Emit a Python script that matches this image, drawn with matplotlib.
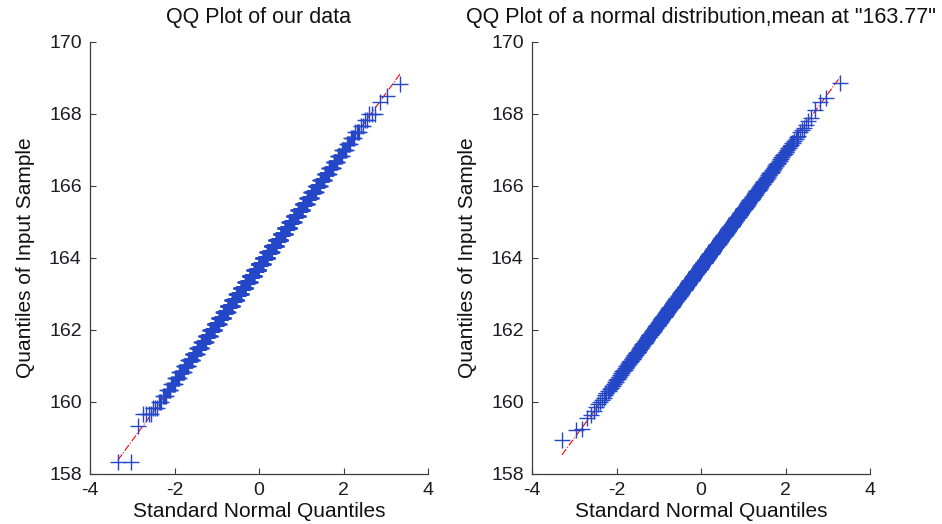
from statistics import NormalDist

import matplotlib

matplotlib.use("Agg")

import matplotlib.pyplot as plt
import numpy as np

# Left panel: our data, recorded in steps of 1/6 -> counts per recorded value
left_low_tail = [158.333, 158.333, 159.333, 159.667, 159.667, 159.667, 159.667]
left_start = 159 + 5 / 6
left_step = 1 / 6
left_counts = [
    3, 3, 4, 5, 6, 7, 10, 11, 13, 16, 18, 21, 24,
    27, 30, 34, 36, 39, 42, 45, 46, 48, 49, 50, 50, 49,
    48, 47, 45, 43, 40, 37, 34, 31, 28, 24, 22, 19, 16,
    14, 12, 9, 8, 7, 5, 4, 4, 2, 2,
]
left_high_tail = [168.0, 168.0, 168.0, 168.333, 168.5, 168.833]

# Right panel: normal sample, counted in 0.05 bins (tails read point by point)
right_low_tail = [158.94, 159.22, 159.26, 159.55, 159.64]
right_start = 159.70
right_step = 0.05
right_counts = [
    0, 1, 0, 1, 0, 1, 1, 1, 1, 0, 1, 1, 2, 1,
    1, 2, 1, 2, 1, 2, 2, 2, 2, 2, 3, 2, 3, 3,
    3, 3, 4, 3, 4, 4, 4, 4, 5, 4, 5, 5, 6, 5,
    6, 6, 6, 7, 7, 7, 7, 7, 8, 8, 8, 9, 8, 9,
    9, 10, 9, 10, 10, 10, 11, 11, 10, 11, 12, 11, 12, 11,
    12, 12, 12, 12, 13, 12, 12, 13, 12, 13, 13, 12, 13, 12,
    13, 13, 12, 13, 12, 12, 12, 12, 12, 12, 12, 11, 12, 11,
    11, 11, 10, 11, 10, 10, 10, 9, 9, 10, 8, 9, 8, 9,
    7, 8, 8, 7, 7, 6, 7, 6, 6, 6, 5, 6, 5, 5,
    4, 5, 4, 4, 4, 3, 3, 4, 3, 3, 2, 3, 3, 2,
    2, 2, 2, 2, 2, 2, 1, 2, 1, 1, 2, 1, 1, 1,
    1, 0, 1, 1, 1, 0, 1, 0, 1, 0, 1, 0, 0,
]
right_high_tail = [168.10, 168.33, 168.44, 168.86]

titles = ["QQ Plot of our data", 'QQ Plot of a normal distribution,mean at "163.77"']
x_ticks = [-4, -2, 0, 2, 4]
y_ticks = [158, 160, 162, 164, 166, 168, 170]

MARKER_BLUE = "#2347c6"
AXIS_GREY = "#3a3f3c"
FONT = ["Liberation Sans", "DejaVu Sans"]


def expand(low, start, step, counts, high) -> np.ndarray:
    body = np.repeat(start + step * np.arange(len(counts)), counts)
    return np.sort(np.concatenate([low, body, high]))


def qq_panel(ax: plt.Axes, sample: np.ndarray, title: str) -> None:
    n = len(sample)
    std = NormalDist()
    theo = np.array([std.inv_cdf((i - 0.5) / n) for i in range(1, n + 1)])

    # reference line through the quartiles, dash-dot out to the extremes
    q1, q3 = np.percentile(sample, [25, 75])
    t1, t3 = std.inv_cdf(0.25), std.inv_cdf(0.75)
    slope = (q3 - q1) / (t3 - t1)
    ends = np.array([theo[0], theo[-1]])
    ax.plot(ends, q1 + slope * (ends - t1), color="red", lw=0.8, ls="-.", zorder=1)
    ax.plot([t1, t3], [q1, q3], color="red", lw=0.8, zorder=1)

    ax.plot(theo, sample, ls="none", marker="+", ms=11, mew=1.0, color=MARKER_BLUE, zorder=2)

    ax.set_xlim(-4, 4)
    ax.set_ylim(158, 170)
    ax.set_xticks(x_ticks)
    ax.set_yticks(y_ticks)
    ax.tick_params(direction="in", length=4, width=0.8, color=AXIS_GREY,
                   labelsize=14, labelcolor="#1c1c24", pad=6)
    for side in ("top", "right"):
        ax.spines[side].set_visible(False)
    for side in ("left", "bottom"):
        ax.spines[side].set_color(AXIS_GREY)
        ax.spines[side].set_linewidth(0.9)

    ax.set_title(title, fontsize=15.5, pad=14, color="#111111")
    ax.set_xlabel("Standard Normal Quantiles", fontsize=15, labelpad=2, color="#111111")
    ax.set_ylabel("Quantiles of Input Sample", fontsize=15, labelpad=10, color="#111111")


def main() -> None:
    plt.rcParams["font.family"] = FONT
    plt.rcParams["axes.unicode_minus"] = False

    samples = [
        expand(left_low_tail, left_start, left_step, left_counts, left_high_tail),
        expand(right_low_tail, right_start, right_step, right_counts, right_high_tail),
    ]

    fig = plt.figure(figsize=(9.42, 5.24), dpi=100)
    lefts = [90 / 942, 532 / 942]
    for left, sample, title in zip(lefts, samples, titles):
        ax = fig.add_axes([left, 50 / 524, 338 / 942, 432 / 524])
        qq_panel(ax, sample, title)

    fig.savefig("out.png", dpi=100)
    plt.close(fig)


if __name__ == "__main__":
    main()
